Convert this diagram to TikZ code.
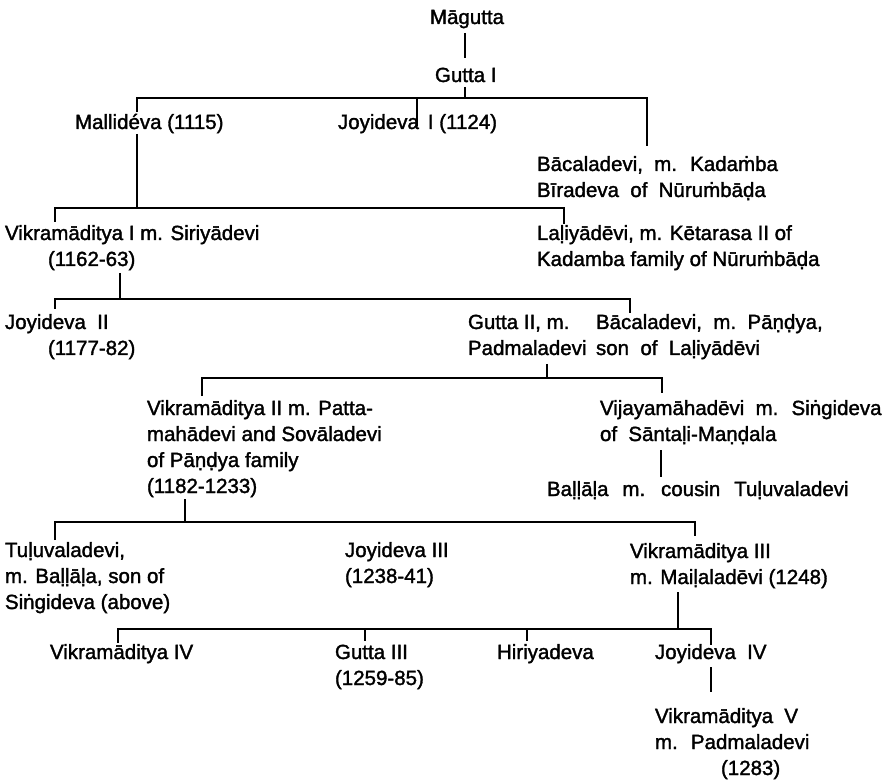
\documentclass[tikz,border=0pt]{standalone}
\usepackage{fontspec}
\setmainfont{Liberation Sans}[FakeBold=1.6]

% multi-line name block whose baseline is that of its first line
\newcommand\stack[1]{\begin{tabular}[t]{@{}l@{}}#1\end{tabular}}
% looser word spacing used in some of the entries
\newcommand\widewords{\spaceskip=0.55em\relax}
\newcommand\widerwords{\spaceskip=0.68em\relax}

\tikzset{
  person/.style={inner sep=0pt, outer sep=0pt, anchor=base west,
    font=\fontsize{20.5}{26}\selectfont},
  wide/.style={font={\fontsize{20.5}{26}\selectfont\widewords}},
  wider/.style={font={\fontsize{20.5}{26}\selectfont\widerwords}},
  link/.style={line width=1.6pt, line cap=butt},
}

\begin{document}
\begin{tikzpicture}[x=1pt,y=-1pt]
\fill[white] (0,0) rectangle (886,783);
\useasboundingbox (0,0) rectangle (886,783);

% ---------------- people ----------------
\node[person, anchor=base] (mag) at (467,24) {Māgutta};
\node[person] (gut1) at (435,82) {Gutta I};

\node[person] (mall) at (75,129) {Mallidéva (1115)};
\node[person] (joy1) at (338,129) {Joyideva\hspace{9pt}I (1124)};
\node[person,wide] (bac1) at (537,171) {\stack{Bācaladevi, m. Kadaṁba\\Bīradeva of Nūruṁbāḍa}};

\node[person] (vik1) at (5,240) {\stack{Vikramāditya I m. Siriyādevi\\\hspace*{43pt}(1162-63)}};
\node[person] (lal) at (537,240) {\stack{Laḷiyādēvi, m. Kētarasa II of\\Kadamba family of Nūruṁbāḍa}};

\node[person] (joy2) at (5,329) {\stack{Joyideva\ \ II\\\hspace*{43pt}(1177-82)}};
\node[person] (gut2) at (468,329) {\stack{Gutta II, m.\\Padmaladevi}};
\node[person] (bac2) at (596,329) {\stack{Bācaladevi,\ \ m.\ \ Pāṇḍya,\\son\ \ of\ \ Laḷiyādēvi}};

\node[person] (vik2) at (147,415) {\stack{Vikramāditya II m. Patta-\\mahādevi and Sovāladevi\\of Pāṇḍya family\\(1182-1233)}};
\node[person,wide] (vij) at (600,415) {\stack{Vijayamāhadēvi m. Siṅgideva\\of Sāntaḷi-Maṇḍala}};
\node[person,wider] (bal) at (547,496) {Baḷḷāḷa m. cousin Tuḷuvaladevi};

\node[person] (tul) at (5,557) {\stack{Tuḷuvaladevi,\\m. Baḷḷāḷa, son of\\Siṅgideva (above)}};
\node[person] (joy3) at (345,557) {\stack{Joyideva III\\(1238-41)}};
\node[person] (vik3) at (630,558) {\stack{Vikramāditya III\\m. Maiḷaladēvi (1248)}};

\node[person] (vik4) at (50,659) {Vikramāditya IV};
\node[person] (gut3) at (335,659) {\stack{Gutta III\\(1259-85)}};
\node[person] (hir) at (497,659) {Hiriyadeva};
\node[person,wide] (joy4) at (655,659) {Joyideva IV};
\node[person,wide] (vik5) at (655,723) {\stack{Vikramāditya V\\m. Padmaladevi\\\hspace*{66pt}(1283)}};

% ---------------- junction points ----------------
\coordinate (mag-d)  at (465,33);
\coordinate (gut1-u) at (465,58);
\coordinate (gut1-d) at (465,87);
\coordinate (b1)     at (465,98);
\coordinate (b1-l)   at (137,98);
\coordinate (b1-r)   at (647,98);
\coordinate (b1-j)   at (417,98);
\coordinate (mall-u) at (137,112);
\coordinate (joy1-u) at (417,126);
\coordinate (bac1-u) at (647,146);

\coordinate (mall-d) at (137,134);
\coordinate (b2)     at (137,208);
\coordinate (b2-l)   at (55,208);
\coordinate (b2-r)   at (564,208);
\coordinate (vik1-u) at (55,222);
\coordinate (lal-u)  at (564,224);

\coordinate (vik1-d) at (120,273);
\coordinate (b3)     at (120,299);
\coordinate (b3-l)   at (55,299);
\coordinate (b3-r)   at (630,299);
\coordinate (joy2-u) at (55,309);
\coordinate (bac2-u) at (630,313);

\coordinate (gut2-d) at (547,364);
\coordinate (b4)     at (547,378);
\coordinate (b4-l)   at (202,378);
\coordinate (b4-r)   at (662,378);
\coordinate (vik2-u) at (202,396);
\coordinate (vij-u)  at (662,393);
\coordinate (vij-d)  at (661,450);
\coordinate (bal-u)  at (661,477);

\coordinate (vik2-d) at (185,499);
\coordinate (b5)     at (185,522);
\coordinate (b5-l)   at (55,522);
\coordinate (b5-r)   at (695,522);
\coordinate (tul-u)  at (55,540);
\coordinate (vik3-u) at (695,536);

\coordinate (vik3-d) at (678,592);
\coordinate (b6)     at (678,629);
\coordinate (b6-l)   at (118,629);
\coordinate (b6-r)   at (711,629);
\coordinate (vik4-u) at (118,643);
\coordinate (gut3-u) at (365,641);
\coordinate (b6-g)   at (365,629);
\coordinate (hir-u)  at (527,641);
\coordinate (b6-h)   at (527,629);
\coordinate (joy4-u) at (711,645);
\coordinate (joy4-d) at (711,667);
\coordinate (vik5-u) at (711,692);

% ---------------- lines of descent ----------------
\draw[link] (mag-d) -- (gut1-u);
\draw[link] (gut1-d) -- (b1);
\draw[link] (mall-u) -- (b1-l) -- (b1-r) -- (bac1-u);
\draw[link] (b1-j) -- (joy1-u);

\draw[link] (mall-d) -- (b2);
\draw[link] (vik1-u) -- (b2-l) -- (b2-r) -- (lal-u);

\draw[link] (vik1-d) -- (b3);
\draw[link] (joy2-u) -- (b3-l) -- (b3-r) -- (bac2-u);

\draw[link] (gut2-d) -- (b4);
\draw[link] (vik2-u) -- (b4-l) -- (b4-r) -- (vij-u);
\draw[link] (vij-d) -- (bal-u);

\draw[link] (vik2-d) -- (b5);
\draw[link] (tul-u) -- (b5-l) -- (b5-r) -- (vik3-u);

\draw[link] (vik3-d) -- (b6);
\draw[link] (vik4-u) -- (b6-l) -- (b6-r) -- (joy4-u);
\draw[link] (b6-g) -- (gut3-u);
\draw[link] (b6-h) -- (hir-u);
\draw[link] (joy4-d) -- (vik5-u);
\end{tikzpicture}
\end{document}
